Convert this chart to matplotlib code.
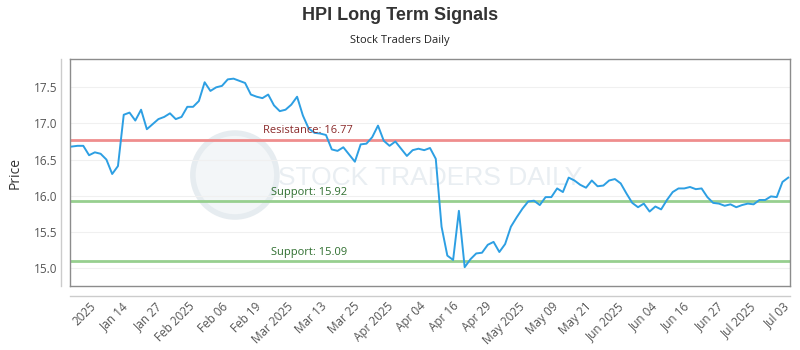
import numpy as np
import matplotlib
matplotlib.use('Agg')
import matplotlib.pyplot as plt
from matplotlib.patches import Ellipse

plt.rcParams['font.family'] = ['Open Sans', 'DejaVu Sans']

# daily closing prices, Jan 2 .. Jul 3 2025 (trading days)
prices = [16.68, 16.69, 16.69, 16.56, 16.60, 16.58, 16.50, 16.30, 16.41, 17.12,
          17.15, 17.04, 17.19, 16.92, 16.99, 17.06, 17.09, 17.14, 17.06, 17.09,
          17.23, 17.23, 17.31, 17.57, 17.45, 17.50, 17.52, 17.61, 17.62, 17.59,
          17.56, 17.40, 17.37, 17.35, 17.40, 17.25, 17.17, 17.19, 17.26, 17.37,
          17.11, 16.93, 16.87, 16.86, 16.84, 16.64, 16.62, 16.67, 16.57, 16.47,
          16.71, 16.72, 16.81, 16.97, 16.76, 16.69, 16.75, 16.65, 16.55, 16.63,
          16.65, 16.63, 16.66, 16.51, 15.57, 15.17, 15.11, 15.79, 15.01, 15.12,
          15.20, 15.21, 15.32, 15.36, 15.22, 15.33, 15.57, 15.70, 15.82, 15.92,
          15.93, 15.87, 15.98, 15.98, 16.10, 16.05, 16.25, 16.21, 16.15, 16.11,
          16.21, 16.13, 16.14, 16.21, 16.23, 16.17, 16.03, 15.90, 15.84, 15.89,
          15.78, 15.85, 15.81, 15.94, 16.05, 16.10, 16.10, 16.12, 16.09, 16.10,
          15.98, 15.90, 15.89, 15.86, 15.88, 15.84, 15.87, 15.89, 15.88, 15.94,
          15.94, 15.99, 15.98, 16.19, 16.25]

tick_labels = ['2025', 'Jan 14', 'Jan 27', 'Feb 2025', 'Feb 06', 'Feb 19',
               'Mar 2025', 'Mar 13', 'Mar 25', 'Apr 2025', 'Apr 04', 'Apr 16',
               'Apr 29', 'May 2025', 'May 09', 'May 21', 'Jun 2025', 'Jun 04',
               'Jun 16', 'Jun 27', 'Jul 2025', 'Jul 03']

resistance = 16.77
supports = [15.92, 15.09]

x = np.arange(len(prices))

fig = plt.figure(figsize=(8, 3.5), dpi=100)
ax = fig.add_axes([0.0875, 0.183, 0.9, 0.648])

# watermark
ax.add_patch(Ellipse((0.229, 0.489), 0.1167, 0.37, transform=ax.transAxes,
                     facecolor='#f3f6f8', edgecolor='#e6ecf0', lw=4,
                     zorder=0))
ax.text(0.5, 0.475, 'STOCK TRADERS DAILY', transform=ax.transAxes,
        ha='center', va='center', fontsize=19, color='#e9eef2',
        family=['Liberation Sans', 'DejaVu Sans'], zorder=0)

for v in [15.0, 15.5, 16.0, 16.5, 17.0, 17.5]:
    ax.axhline(v, color='#f0f0f0', lw=0.8, zorder=1)

ax.axhline(resistance, color='#ef8d8d', lw=2, zorder=2)
for s in supports:
    ax.axhline(s, color='#97cf8f', lw=2, zorder=2)

ax.plot(x, prices, color='#2d9fe3', lw=1.4, zorder=3)

ax.text(33.1, resistance + 0.05, 'Resistance: %.2f' % resistance,
        color='#8a2a2a', fontsize=8, ha='left', va='bottom', zorder=4)
for s in supports:
    ax.text(34.5, s + 0.05, 'Support: %.2f' % s,
            color='#2f6e2f', fontsize=8, ha='left', va='bottom', zorder=4)

ax.set_xlim(-0.3, len(prices) - 0.7)
ax.set_ylim(14.75, 17.89)
ax.set_yticks([15.0, 15.5, 16.0, 16.5, 17.0, 17.5])
ax.set_yticklabels(['15.0', '15.5', '16.0', '16.5', '17.0', '17.5'])
ax.set_xticks(np.linspace(3.0, 123.0, len(tick_labels)))
ax.set_xticklabels(tick_labels, rotation=45, ha='right',
                   rotation_mode='anchor')
ax.tick_params(axis='both', length=0, colors='#555555', labelsize=8.5)
ax.tick_params(axis='x', pad=10)
ax.tick_params(axis='y', pad=9)

for sp in ax.spines.values():
    sp.set_color('#8c8c8c')
    sp.set_linewidth(1)

# outer axis lines
ax.plot([-0.0125, -0.0125], [0.0, 1.0], transform=ax.transAxes,
        color='#cccccc', lw=1, clip_on=False)
ax.plot([0.0, 1.0], [-0.044, -0.044], transform=ax.transAxes,
        color='#cccccc', lw=1, clip_on=False)

ax.set_ylabel('Price', fontsize=10, color='#333333', labelpad=8)

fig.text(0.5, 0.955, 'HPI Long Term Signals', ha='center', va='center',
         fontsize=13, fontweight='bold', color='#333333',
         family=['Liberation Sans', 'DejaVu Sans'])
fig.text(0.5, 0.885, 'Stock Traders Daily', ha='center', va='center',
         fontsize=8, color='#222222')

fig.savefig('out.png', dpi=100)
